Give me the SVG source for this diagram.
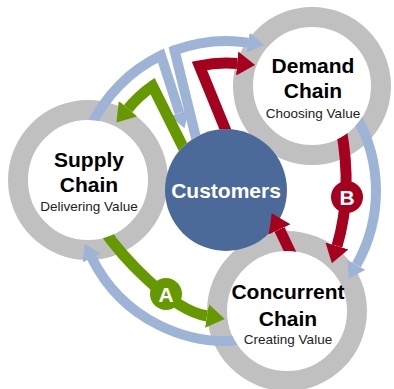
<svg xmlns="http://www.w3.org/2000/svg" width="394" height="389" viewBox="0 0 394 389">
<style>
.ring{fill:#fff;stroke:#c0c0c0;stroke-width:20}
.title{font-family:"Liberation Sans",Arial,sans-serif;font-weight:bold;font-size:21px;fill:#000;text-anchor:middle}
.sub{font-family:"Liberation Sans",Arial,sans-serif;font-size:13.5px;fill:#222;text-anchor:middle}
.blue{fill:none;stroke:#9db4d6;stroke-width:10;stroke-linejoin:miter}
.red{fill:none;stroke:#a6001f;stroke-width:11;stroke-linejoin:miter}
.green{fill:none;stroke:#669900;stroke-width:11;stroke-linejoin:miter}
.lbl{font-family:"Liberation Sans",Arial,sans-serif;font-weight:bold;font-size:21px;fill:#fff;text-anchor:middle}
</style>
<defs>
<marker id="hb" markerUnits="userSpaceOnUse" viewBox="0 0 16 20" markerWidth="16" markerHeight="20" refX="0" refY="10" orient="auto"><path d="M0,0 L16,10 L0,20 z" fill="#9db4d6"/></marker>
<marker id="hr" markerUnits="userSpaceOnUse" viewBox="0 0 18 24" markerWidth="18" markerHeight="24" refX="0" refY="12" orient="auto"><path d="M0,0 L18,12 L0,24 z" fill="#a6001f"/></marker>
<marker id="hg" markerUnits="userSpaceOnUse" viewBox="0 0 18 24" markerWidth="18" markerHeight="24" refX="0" refY="12" orient="auto"><path d="M0,0 L18,12 L0,24 z" fill="#669900"/></marker>
<mask id="cutNodes" maskUnits="userSpaceOnUse" x="0" y="0" width="394" height="389">
<rect x="0" y="0" width="394" height="389" fill="#fff"/>
<circle cx="88" cy="180" r="60" fill="#000"/>
<circle cx="312" cy="86" r="59" fill="#000"/>
<circle cx="287" cy="311" r="60" fill="#000"/>
<circle cx="226" cy="190" r="61" fill="#000"/>
</mask>
<mask id="cutConc" maskUnits="userSpaceOnUse" x="0" y="0" width="394" height="389">
<rect x="0" y="0" width="394" height="389" fill="#fff"/>
<circle cx="287" cy="311" r="60" fill="#000"/>
</mask>
</defs>

<g id="supply-chain">
<circle class="ring" cx="88" cy="180" r="70"/>
<text class="title" x="89" y="167">Supply</text>
<text class="title" x="89" y="192">Chain</text>
<text class="sub" x="89" y="211">Delivering Value</text>
</g>
<g id="demand-chain">
<circle class="ring" cx="312" cy="86" r="69"/>
<text class="title" x="313" y="73">Demand</text>
<text class="title" x="313" y="98">Chain</text>
<text class="sub" x="313" y="118">Choosing Value</text>
</g>
<g id="concurrent-chain">
<circle class="ring" cx="287" cy="311" r="70"/>
<text class="title" x="288" y="299">Concurrent</text>
<text class="title" x="288" y="326">Chain</text>
<text class="sub" x="288" y="344">Creating Value</text>
</g>
<g id="customers">
<circle cx="226" cy="190" r="61" fill="#4b6a99"/>
<text class="lbl" x="226" y="198">Customers</text>
</g>

<g id="connectors">
<g mask="url(#cutNodes)">
<path class="blue" d="M198,146 L174.5,50.3 A150,150 0 0 1 248.2,42.6" marker-end="url(#hb)"/>
<path class="blue" d="M90.1,127.6 A150,150 0 0 1 161,55.6 L179.5,113" marker-end="url(#hb)"/>
<path class="blue" d="M355.9,116 A150,150 0 0 1 356.5,264.9" marker-end="url(#hb)"/>
<path class="blue" d="M252,338.7 A150,150 0 0 1 91.8,257.9" marker-end="url(#hb)"/>
<path class="red" d="M231.5,144.5 L199.4,65.8 A128,128 0 0 1 237.2,63.5" marker-end="url(#hr)"/>
<path class="green" d="M186.1,153.2 L152.6,86.1 A128,128 0 0 0 128,108.7" marker-end="url(#hg)"/>
<path class="red" d="M341,128 Q353,192 337,246" marker-end="url(#hr)"/>
<path class="green" d="M103,229 C121,255 170,310 207,316" marker-end="url(#hg)"/>
</g>
<path class="red" mask="url(#cutConc)" d="M295,262 L279.5,229.4" marker-end="url(#hr)"/>
<g id="label-a">
<circle cx="166" cy="294" r="16" fill="#669900"/>
<text class="lbl" x="166" y="302">A</text>
</g>
<g id="label-b">
<circle cx="347" cy="197" r="16" fill="#a6001f"/>
<text class="lbl" x="347" y="205">B</text>
</g>
</g>
</svg>
